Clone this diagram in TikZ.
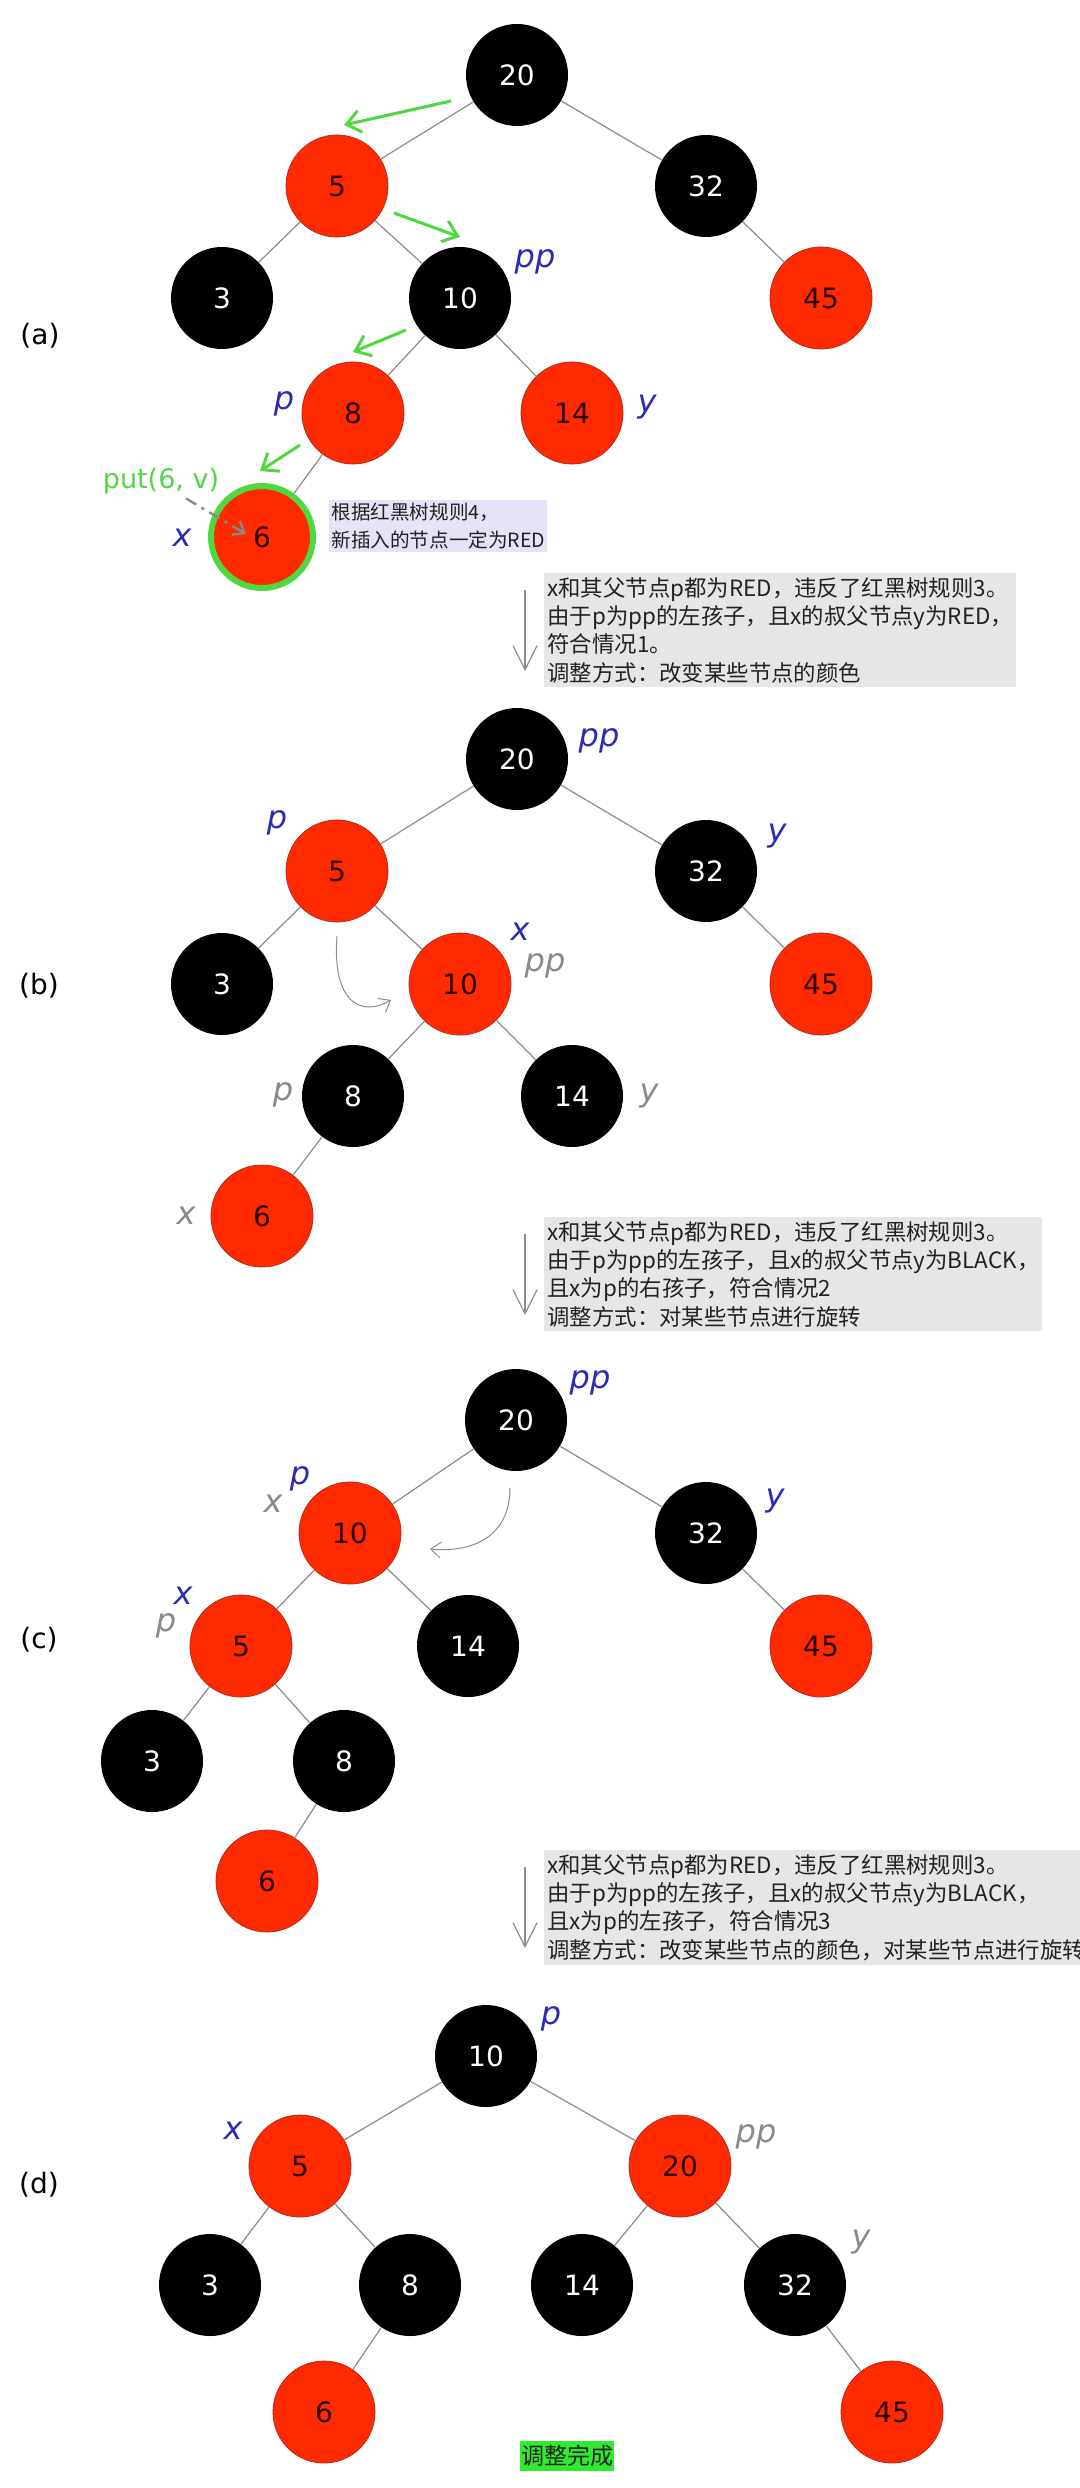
\documentclass[tikz,border=0pt]{standalone}
\usepackage{fontspec}
\setmainfont{DejaVu Sans}
\newfontfamily\cjk{Noto Sans CJK SC}
\usetikzlibrary{arrows.meta,calc}
\definecolor{rbred}{HTML}{FF2A00}
\definecolor{rbrim}{HTML}{B8281A}
\definecolor{rdink}{HTML}{2A0000}
\definecolor{lblue}{HTML}{2B2BB5}
\definecolor{lgray}{HTML}{8A8A8A}
\definecolor{wire}{HTML}{8C8C8C}
\definecolor{grn}{HTML}{50D840}
\definecolor{donegrn}{HTML}{30EA30}
\definecolor{boxbg}{HTML}{E6E6E8}
\definecolor{notebg}{HTML}{E4E4F6}
\definecolor{boxink}{HTML}{222222}

\begin{document}
\begin{tikzpicture}[x=0.5pt,y=-0.5pt,
    rbnode/.style={circle,minimum size=51pt,inner sep=0pt,font=\fontsize{14}{14}\selectfont},
    blk/.style={rbnode,fill=black,text=white},
    rd/.style={rbnode,fill=rbred,draw=rbrim,line width=0.4pt,text=rdink},
    fresh/.style={rd,draw=grn,line width=3pt},
    link/.style={draw=wire,line width=0.6pt},
    tag/.style={font=\fontsize{16}{16}\selectfont\itshape,text=lblue,inner sep=0pt},
    oldtag/.style={tag,text=lgray},
    panel/.style={font=\fontsize{14}{14}\selectfont,inner sep=0pt},
    casebox/.style={fill=boxbg,text=boxink,anchor=north west,align=left,
      inner xsep=1.5pt,inner ysep=2pt,font=\cjk\fontsize{11.2}{14.15}\selectfont},
    stepdown/.style={draw=wire,line width=0.6pt,-{Straight Barb[length=12pt,width=12pt]}},
    walk/.style={draw=grn,line width=1.5pt,-{Straight Barb[length=7pt,width=11pt]}},
    turn/.style={draw=wire,line width=0.5pt,-{Straight Barb[length=5pt,width=8pt]}}]
  \fill[white] (0,0) rectangle (1080,2488);
  \useasboundingbox (0,0) rectangle (1080,2488);

  % the four trees: panel/key/colour/x/y
  \foreach \p/\v/\c/\x/\y in {
      a/20/blk/517/75, a/5/rd/337/186, a/32/blk/706/186, a/3/blk/222/298,
      a/10/blk/460/298, a/45/rd/821/298, a/8/rd/353/413, a/14/rd/572/413,
      a/6/fresh/262/537,
      b/20/blk/517/759, b/5/rd/337/871, b/32/blk/706/871, b/3/blk/222/984,
      b/10/rd/460/984, b/45/rd/821/984, b/8/blk/353/1096, b/14/blk/572/1096,
      b/6/rd/262/1216,
      c/20/blk/516/1420, c/10/rd/350/1533, c/32/blk/706/1533, c/5/rd/241/1646,
      c/14/blk/468/1646, c/45/rd/821/1646, c/3/blk/152/1761, c/8/blk/344/1761,
      c/6/rd/267/1881,
      d/10/blk/486/2056, d/5/rd/300/2166, d/20/rd/680/2166, d/3/blk/210/2285,
      d/8/blk/410/2285, d/14/blk/582/2285, d/32/blk/795/2285, d/6/rd/324/2412,
      d/45/rd/892/2412}
    \node[\c] (\p\v) at (\x,\y) {\v};
  \foreach \u/\w in {a20/a5,a20/a32,a5/a3,a5/a10,a32/a45,a10/a8,a10/a14,a8/a6,
      b20/b5,b20/b32,b5/b3,b5/b10,b32/b45,b10/b8,b10/b14,b8/b6,
      c20/c10,c20/c32,c10/c5,c10/c14,c32/c45,c5/c3,c5/c8,c8/c6,
      d10/d5,d10/d20,d5/d3,d5/d8,d8/d6,d20/d14,d20/d32,d32/d45}
    \draw[link] (\u) -- (\w);

  % panel letters
  \node[panel] (pa) at (40,336) {(a)};
  \node[panel] (pb) at (39,986) {(b)};
  \node[panel] (pc) at (39,1640) {(c)};
  \node[panel] (pd) at (39,2185) {(d)};

  % (a) search path and insertion
  \draw[walk] ($(a20)+(-66,26)$) -- ($(a5)+(7,-61)$);
  \draw[walk] ($(a5)+(57,27)$) -- ($(a10)+(0,-61)$);
  \draw[walk] ($(a10)+(-54,32)$) -- ($(a8)+(0,-61)$);
  \draw[walk] ($(a8)+(-53,32)$) -- ($(a6)+(-2,-66)$);
  \node[text=grn,font=\fontsize{13.5}{13.5}\selectfont,inner sep=0pt] (put) at (161,481) {put(6, v)};
  \draw[draw=lgray,line width=1.2pt,dash pattern=on 6pt off 3pt on 1.5pt off 3pt,
    -{Straight Barb[length=5pt,width=8pt]}] ($(put.south)+(25,4)$) -- ($(a6)+(-16,-3)$);
  \node[tag] (app) at (535,262) {pp};
  \node[tag] (ap) at (284,404) {p};
  \node[tag] (ay) at (647,407) {y};
  \node[tag] (ax) at (182,538) {x};
  \node[fill=notebg,text=boxink,anchor=north west,align=left,inner xsep=1pt,inner ysep=1.5pt,
    font=\cjk\fontsize{9.8}{14}\selectfont] (rule4) at (329,500)
    {根据红黑树规则4，\\新插入的节点一定为RED};

  % case 1
  \node[casebox] (box1) at (544,573)
    {x和其父节点p都为RED，违反了红黑树规则3。\\由于p为pp的左孩子，且x的叔父节点y为RED，\\符合情况1。\\调整方式：改变某些节点的颜色};

  % (b)
  \node[tag] (bpp) at (599,741) {pp};
  \node[tag] (bp) at (277,823) {p};
  \node[tag] (by) at (777,836) {y};
  \node[tag] (bx) at (520,932) {x};
  \node[oldtag] (bpp0) at (545,966) {pp};
  \node[oldtag] (bp0) at (283,1095) {p};
  \node[oldtag] (by0) at (649,1096) {y};
  \node[oldtag] (bx0) at (186,1216) {x};
  \draw[turn] ($(b5)+(0,65)$) .. controls ($(b5)+(-5,130)$) and ($(b10)+(-100,34)$) .. ($(b10)+(-69,16)$);

  % case 2
  \node[casebox] (box2) at (544,1217)
    {x和其父节点p都为RED，违反了红黑树规则3。\\由于p为pp的左孩子，且x的叔父节点y为BLACK，\\且x为p的右孩子，符合情况2\\调整方式：对某些节点进行旋转};

  % (c)
  \node[tag] (cpp) at (590,1383) {pp};
  \node[tag] (cp) at (300,1479) {p};
  \node[oldtag] (cx0) at (273,1504) {x};
  \node[tag] (cy) at (775,1501) {y};
  \node[tag] (cx) at (183,1596) {x};
  \node[oldtag] (cp0) at (166,1626) {p};
  \draw[turn] ($(c20)+(-6,68)$) .. controls ($(c20)+(-6,115)$) and ($(c10)+(125,20)$) .. ($(c10)+(80,16)$);

  % case 3
  \node[casebox] (box3) at (544,1850)
    {x和其父节点p都为RED，违反了红黑树规则3。\\由于p为pp的左孩子，且x的叔父节点y为BLACK，\\且x为p的左孩子，符合情况3\\调整方式：改变某些节点的颜色，对某些节点进行旋转};
  \foreach \b in {box1,box2,box3}
    \draw[stepdown] ($(\b.north west)+(-19,17)$) -- ++(0,81);

  % (d)
  \node[tag] (dp) at (551,2019) {p};
  \node[tag] (dx) at (233,2131) {x};
  \node[oldtag] (dpp0) at (756,2137) {pp};
  \node[oldtag] (dy0) at (861,2242) {y};
  \node[fill=donegrn,text=boxink,inner xsep=0.5pt,inner ysep=2pt,
    font=\cjk\fontsize{11.5}{11.5}\selectfont] (done) at (567,2456) {调整完成};
\end{tikzpicture}
\end{document}
